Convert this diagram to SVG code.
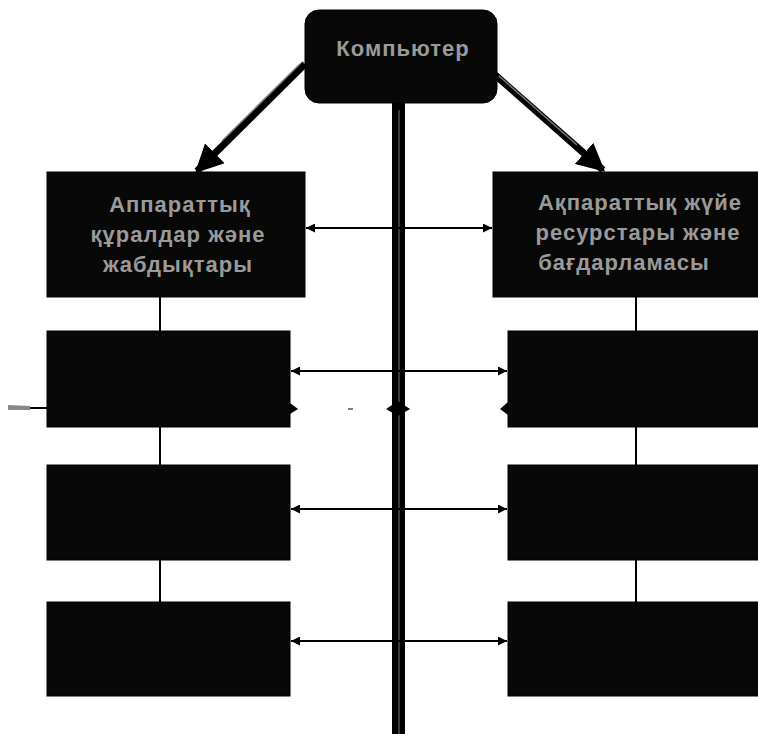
<svg xmlns="http://www.w3.org/2000/svg" width="758" height="734" viewBox="0 0 758 734">
  <defs>
    <marker id="ah" viewBox="0 0 10 10" refX="10" refY="5" markerWidth="9" markerHeight="9" markerUnits="userSpaceOnUse" orient="auto-start-reverse">
      <path d="M0,0 L10,5 L0,10 z" fill="#000"/>
    </marker>
    <marker id="big" viewBox="0 0 10 10" refX="9" refY="5" markerWidth="4" markerHeight="4" orient="auto">
      <path d="M0,0 L10,5 L0,10 z" fill="#000"/>
    </marker>
  </defs>
  <style>
    .box { fill: #080808; stroke: #000; stroke-width: 1; }
    .t { font-family: "Liberation Sans", "DejaVu Sans", sans-serif; font-size: 22px; font-weight: bold; fill: #9a9a9a; text-anchor: middle; letter-spacing: 1px; }
    .c { stroke: #000; stroke-width: 2; fill: none; }
    .h { stroke: #000; stroke-width: 2; fill: none; marker-start: url(#ah); marker-end: url(#ah); }
  </style>
  <rect width="758" height="734" fill="#fff"/>

  <g id="connectors">
    <rect x="392" y="95" width="13" height="639" fill="#000"/>
    <line x1="399" y1="110" x2="399" y2="734" stroke="#777" stroke-width="1"/>
    <line x1="305" y1="64" x2="197" y2="171" stroke="#000" stroke-width="7" marker-end="url(#big)"/>
    <line x1="300" y1="64" x2="222" y2="141" stroke="#777" stroke-width="1.5"/>
    <line x1="494" y1="74" x2="603" y2="170" stroke="#000" stroke-width="7" marker-end="url(#big)"/>
    <line x1="499" y1="76" x2="577" y2="145" stroke="#777" stroke-width="1.5"/>
    <line class="h" x1="306" y1="228" x2="492" y2="228"/>
    <line class="h" x1="291" y1="371" x2="507" y2="371"/>
    <line class="h" x1="291" y1="509" x2="507" y2="509"/>
    <line class="h" x1="291" y1="641" x2="507" y2="641"/>
    <line class="c" x1="160" y1="297" x2="160" y2="331"/>
    <line class="c" x1="160" y1="427" x2="160" y2="465"/>
    <line class="c" x1="160" y1="560" x2="160" y2="602"/>
    <line class="c" x1="636" y1="297" x2="636" y2="331"/>
    <line class="c" x1="636" y1="427" x2="636" y2="465"/>
    <line class="c" x1="636" y1="560" x2="636" y2="602"/>
    <line x1="8" y1="408" x2="47" y2="408" stroke="#000" stroke-width="2"/>
    <path d="M8,405 L30,406 L30,410 L8,410 z" fill="#888"/>
    <path d="M290,403 L298,409 L290,414 z" fill="#000"/>
    <path d="M386,409 L398,401 L410,409 L398,416 z" fill="#000"/>
    <path d="M508,402 L500,409 L508,415 z" fill="#000"/>
    <line x1="348" y1="409" x2="353" y2="409" stroke="#555" stroke-width="1.5"/>
  </g>

  <g id="n0">
    <rect class="box" x="305" y="10" width="192" height="93" rx="14"/>
    <text class="t" x="403" y="56" font-size="25">Компьютер</text>
  </g>
  <g id="n1">
    <rect class="box" x="47" y="172" width="258" height="125"/>
    <text class="t" x="180" y="212">Аппараттық</text>
    <text class="t" x="178" y="242">құралдар және</text>
    <text class="t" x="178" y="272">жабдықтары</text>
  </g>
  <g id="n2">
    <rect class="box" x="493" y="172" width="270" height="125"/>
    <text class="t" x="640" y="210">Ақпараттық жүйе</text>
    <text class="t" x="638" y="240">ресурстары және</text>
    <text class="t" x="624" y="270">бағдарламасы</text>
  </g>
  <g id="n3"><rect class="box" x="47" y="331" width="243" height="96"/></g>
  <g id="n4"><rect class="box" x="508" y="331" width="255" height="96"/></g>
  <g id="n5"><rect class="box" x="47" y="465" width="243" height="95"/></g>
  <g id="n6"><rect class="box" x="508" y="465" width="255" height="95"/></g>
  <g id="n7"><rect class="box" x="47" y="602" width="243" height="94"/></g>
  <g id="n8"><rect class="box" x="508" y="602" width="255" height="94"/></g>
</svg>
